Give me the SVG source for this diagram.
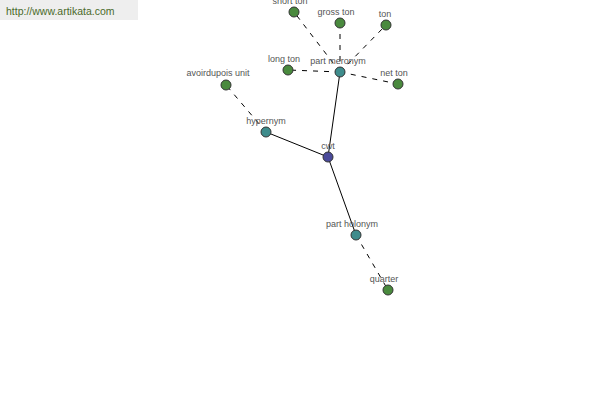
<svg xmlns="http://www.w3.org/2000/svg" width="600" height="400" viewBox="0 0 600 400">
<style>
text{font-family:"Liberation Sans",Arial,sans-serif;font-size:9px;fill:#555;text-anchor:middle}
.n{stroke:#333;stroke-width:1}
.g{fill:#4a8a3e}
.t{fill:#3e8c8c}
.b{fill:#4a4a9a}
.s{stroke:#000;stroke-width:1;fill:none}
.d{stroke:#000;stroke-width:1;fill:none;stroke-dasharray:5,6}
</style>
<rect width="600" height="400" fill="#fff"/>
<g id="header"><rect x="0" y="0" width="138" height="20" fill="#eeeeee"/><text x="6" y="15" style="text-anchor:start;font-size:10.5px;fill:#4a6a2a">http://www.artikata.com</text></g>
<g id="connectors">
<line class="s" x1="328" y1="157" x2="266" y2="132"/>
<line class="s" x1="328" y1="157" x2="340" y2="72"/>
<line class="s" x1="328" y1="157" x2="356" y2="235"/>
<line class="d" x1="266" y1="132" x2="226" y2="85"/>
<line class="d" x1="340" y1="72" x2="294" y2="12"/>
<line class="d" x1="340" y1="72" x2="340" y2="23"/>
<line class="d" x1="340" y1="72" x2="386" y2="25"/>
<line class="d" x1="340" y1="72" x2="288" y2="70"/>
<line class="d" x1="340" y1="72" x2="398" y2="84"/>
<line class="d" x1="356" y1="235" x2="388" y2="290"/>
</g>
<g id="cwt"><circle class="n b" cx="328" cy="157" r="5"/><text x="328" y="149">cwt</text></g>
<g id="hypernym"><circle class="n t" cx="266" cy="132" r="5"/><text x="266" y="124">hypernym</text></g>
<g id="part_meronym"><circle class="n t" cx="340" cy="72" r="5"/><text x="338" y="64">part meronym</text></g>
<g id="part_holonym"><circle class="n t" cx="356" cy="235" r="5"/><text x="352" y="227">part holonym</text></g>
<g id="avoirdupois_unit"><circle class="n g" cx="226" cy="85" r="5"/><text x="218" y="76">avoirdupois unit</text></g>
<g id="short_ton"><circle class="n g" cx="294" cy="12" r="5"/><text x="290" y="4">short ton</text></g>
<g id="gross_ton"><circle class="n g" cx="340" cy="23" r="5"/><text x="336" y="15">gross ton</text></g>
<g id="ton"><circle class="n g" cx="386" cy="25" r="5"/><text x="385" y="17">ton</text></g>
<g id="long_ton"><circle class="n g" cx="288" cy="70" r="5"/><text x="284" y="62">long ton</text></g>
<g id="net_ton"><circle class="n g" cx="398" cy="84" r="5"/><text x="394" y="76">net ton</text></g>
<g id="quarter"><circle class="n g" cx="388" cy="290" r="5"/><text x="384" y="282">quarter</text></g>
</svg>
